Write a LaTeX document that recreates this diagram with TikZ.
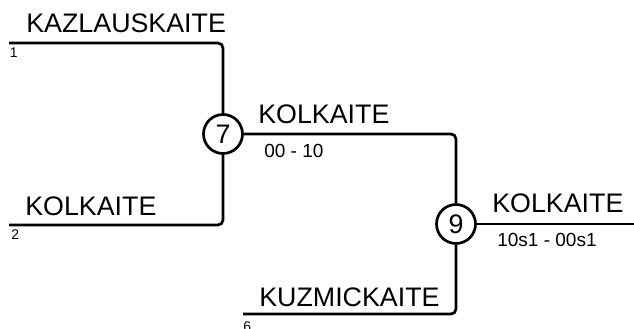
\documentclass[tikz,border=0pt]{standalone}
\usepackage{fontspec}
\setmainfont{Liberation Sans}
\usepackage{tikz}
\usetikzlibrary{positioning, calc}

\begin{document}
\begin{tikzpicture}[x=1pt, y=-1pt, line width=2.7pt,
    team/.style={anchor=base west, inner sep=0pt, font=\fontsize{26.8}{30}\selectfont},
    score/.style={anchor=north west, inner sep=0pt, font=\fontsize{19}{22}\selectfont},
    seed/.style={anchor=north west, inner sep=0pt, font=\fontsize{14}{16}\selectfont},
    game/.style={draw, circle, minimum size=39pt, inner sep=0pt, font=\fontsize{26.8}{30}\selectfont}]
  \useasboundingbox (0,0) rectangle (634,329);
  % Matches
  \node[game] (m7) at (223,134) {7};
  \node[game] (m9) at (456,224) {9};
  % Free ends of the bracket lines
  \coordinate (s1) at (9,43);
  \coordinate (s2) at (9,225);
  \coordinate (s6) at (243,314);
  \coordinate (w9) at (634,224);
  % Bracket lines
  \draw[rounded corners=5pt] (s1) -| (m7);
  \draw[rounded corners=5pt] (s2) -| (m7);
  \draw[rounded corners=5pt] (m7) -| (m9);
  \draw[rounded corners=5pt] (m9) |- (s6);
  \draw (m9) -- (w9);
  % Names
  \node[team] (n1) at (25,33) {KAZLAUSKAITE};
  \node[team] (n2) at (24,215) {KOLKAITE};
  \node[team] (n6) at (258,306) {KUZMICKAITE};
  \node[team] (n7) at (257,123) {KOLKAITE};
  \node[team] (n9) at (491,212) {KOLKAITE};
  % Seeds and scores
  \node[seed] (d1) at (8.5,47) {1};
  \node[seed] (d2) at (10,228) {2};
  \node[seed] (d6) at (242,320) {6};
  \node[score] (r7) at (263,143) {00 - 10};
  \node[score] (r9) at (496,232) {10s1 - 00s1};
\end{tikzpicture}
\end{document}
